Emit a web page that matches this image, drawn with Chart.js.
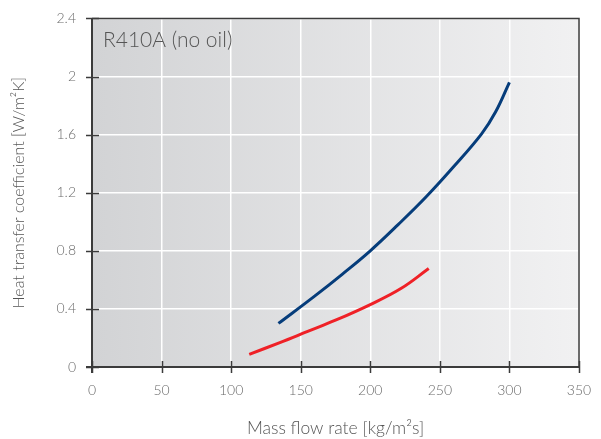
<!DOCTYPE html>
<html>
<head>
<meta charset="utf-8">
<title>R410A (no oil)</title>
<script src="https://cdn.jsdelivr.net/npm/chart.js@4.4.1/dist/chart.umd.min.js"></script>
<style>
  html, body { margin: 0; padding: 0; background: #fff; }
  #wrap { width: 601px; height: 439px; position: relative; }
</style>
</head>
<body>
<div id="wrap"><canvas id="htcChart" width="601" height="439"></canvas></div>
<script>
// ---------- data ----------
const blueFlow = [134, 160, 180, 200, 220, 240, 260, 280, 290, 300];
const blueHtc  = [0.30, 0.488, 0.64, 0.80, 0.98, 1.17, 1.38, 1.605, 1.755, 1.96];

const redFlow = [113, 135, 155, 175, 200, 222, 242];
const redHtc  = [0.087, 0.168, 0.245, 0.322, 0.43, 0.54, 0.678];

const xTickLabels = ["0", "50", "100", "150", "200", "250", "300", "350"];
const yTickLabels = ["0", "0.4", "0.8", "1.2", "1.6", "2", "2.4"];

const chartTitle = "R410A (no oil)";
const xTitle = "Mass flow rate [kg/m\u00B2s]";
const yTitle = "Heat transfer coefficient [W/m\u00B2K]";

const FONT = "Lato, 'Open Sans', 'DejaVu Sans', sans-serif";

function toPoints(xs, ys) {
  return xs.map((x, i) => ({ x: x, y: ys[i] }));
}

// ---------- plugins ----------
const panelBackground = {
  id: "panelBackground",
  beforeDraw(chart) {
    const { ctx, chartArea: a } = chart;
    const g = ctx.createLinearGradient(a.left, 0, a.right, 0);
    g.addColorStop(0, "#d2d3d5");
    g.addColorStop(1, "#f1f1f2");
    ctx.save();
    ctx.fillStyle = g;
    ctx.fillRect(a.left, a.top, a.right - a.left, a.bottom - a.top);
    ctx.restore();
  }
};

const frameAndTicks = {
  id: "frameAndTicks",
  afterDraw(chart) {
    const { ctx, chartArea: a, scales } = chart;
    ctx.save();
    ctx.strokeStyle = "#3b3b3b";
    // top + right
    ctx.lineWidth = 1.5;
    ctx.beginPath();
    ctx.moveTo(a.left, a.top);
    ctx.lineTo(a.right, a.top);
    ctx.lineTo(a.right, a.bottom);
    ctx.stroke();
    // bottom
    ctx.lineWidth = 2;
    ctx.beginPath();
    ctx.moveTo(a.left - 6, a.bottom);
    ctx.lineTo(a.right, a.bottom);
    ctx.stroke();
    // left
    ctx.beginPath();
    ctx.moveTo(a.left, a.top);
    ctx.lineTo(a.left, a.bottom + 6);
    ctx.stroke();

    // tick marks crossing the axes
    ctx.lineWidth = 1.5;
    scales.x.ticks.forEach(t => {
      const px = Math.round(scales.x.getPixelForValue(t.value)) + 0.5;
      ctx.beginPath();
      ctx.moveTo(px, a.bottom - 6);
      ctx.lineTo(px, a.bottom + 6);
      ctx.stroke();
    });
    scales.y.ticks.forEach(t => {
      const py = Math.round(scales.y.getPixelForValue(t.value)) + 0.5;
      ctx.beginPath();
      ctx.moveTo(a.left - 6, py);
      ctx.lineTo(a.left + 7, py);
      ctx.stroke();
    });

    // panel title
    ctx.fillStyle = "#555";
    ctx.font = "300 21px " + FONT;
    ctx.textBaseline = "middle";
    ctx.fillText(chartTitle, a.left + 11, 40);
    ctx.restore();
  }
};

// ---------- chart ----------
const ctx = document.getElementById("htcChart");
new Chart(ctx, {
  type: "line",
  data: {
    datasets: [
      {
        data: toPoints(blueFlow, blueHtc),
        borderColor: "#063d7b",
        borderWidth: 3,
        pointRadius: 0,
        tension: 0.4,
        fill: false
      },
      {
        data: toPoints(redFlow, redHtc),
        borderColor: "#ef2127",
        borderWidth: 3,
        pointRadius: 0,
        tension: 0.4,
        fill: false
      }
    ]
  },
  options: {
    responsive: false,
    animation: false,
    devicePixelRatio: 1,
    layout: { padding: { top: 16, right: 22, left: 0, bottom: 0 } },
    plugins: {
      legend: { display: false },
      tooltip: { enabled: false }
    },
    scales: {
      x: {
        type: "linear",
        min: 0,
        max: 350,
        ticks: {
          stepSize: 50,
          color: "#6b6b6b",
          font: { family: FONT, size: 14, weight: "300" },
          padding: 9,
          maxRotation: 0,
          callback: (v) => xTickLabels[Math.round(v / 50)]
        },
        grid: { color: "#ffffff", lineWidth: 1.5, drawTicks: true, tickLength: 6, tickColor: "rgba(0,0,0,0)" },
        border: { display: false },
        title: {
          display: true,
          text: xTitle,
          color: "#555",
          font: { family: FONT, size: 17.5, weight: "300" },
          padding: { top: 10, bottom: 0 }
        },
        afterFit(scale) { scale.height = 72; }
      },
      y: {
        min: 0,
        max: 2.4,
        ticks: {
          stepSize: 0.4,
          color: "#6b6b6b",
          font: { family: FONT, size: 14, weight: "300" },
          padding: 10,
          callback: (v) => yTickLabels[Math.round(v / 0.4)]
        },
        grid: { color: "#ffffff", lineWidth: 1.5, drawTicks: true, tickLength: 6, tickColor: "rgba(0,0,0,0)" },
        border: { display: false },
        title: {
          display: true,
          text: yTitle,
          color: "#555",
          font: { family: FONT, size: 16, weight: "300" },
          padding: { top: 9, bottom: 0 }
        },
        afterFit(scale) { scale.width = 92; }
      }
    }
  },
  plugins: [panelBackground, frameAndTicks]
});
</script>
</body>
</html>
